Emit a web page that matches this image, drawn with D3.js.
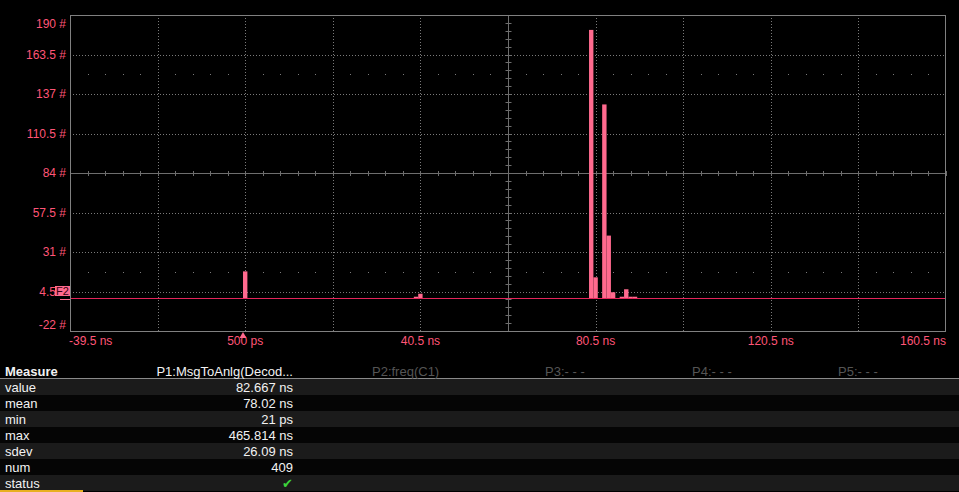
<!DOCTYPE html>
<html><head><meta charset="utf-8">
<script src="https://cdn.jsdelivr.net/npm/d3@7/dist/d3.min.js"></script>
<style>
html,body{margin:0;padding:0;background:#000;}
svg{display:block;font-family:"Liberation Sans",Arial,sans-serif;}
</style></head>
<body>
<svg id="c" width="959" height="492"></svg>
<script>
// ---- data ----
const binStartNs = [0, 39, 40, 79, 80, 81, 82, 83, 84, 85, 86, 87, 88, 89];
const binCounts  = [18, 1, 3, 180, 14, 0, 130, 42, 4, 0, 1, 6, 1, 1];
const binWidthNs = 1;
const xTickValues = [-39.5, 0.5, 40.5, 80.5, 120.5, 160.5];
const xTickLabels = ["-39.5 ns", "500 ps", "40.5 ns", "80.5 ns", "120.5 ns", "160.5 ns"];
const yTickValues = [190, 163.5, 137, 110.5, 84, 57.5, 31, 4.5, -22];
const yTickLabels = ["190 #", "163.5 #", "137 #", "110.5 #", "84 #", "57.5 #", "31 #", "4.5 #", "-22 #"];
const measureNames = ["value", "mean", "min", "max", "sdev", "num", "status"];
const p1Values = ["82.667 ns", "78.02 ns", "21 ps", "465.814 ns", "26.09 ns", "409", "\u2714"];
const paramHeaders = ["P1:MsgToAnlg(Decod...", "P2:freq(C1)", "P3:- - -", "P4:- - -", "P5:- - -"];

// ---- layout ----
const svg = d3.select("#c");
const L = 70, R = 946, T = 15, B = 331;
const x = d3.scaleLinear().domain([-39.5, 160.5]).range([L, R]);
const y = d3.scaleLinear().domain([-22, 190]).range([B, T]);
const gridGray = "#7a7a7a";
const pink = "#ff6a8e";
const labelPink = "#ff5577";

svg.append("rect").attr("width", 959).attr("height", 492).attr("fill", "#000");

const g = svg.append("g");
// dotted grid verticals
const xDiv = d3.range(0, 11).map(i => -39.5 + i * 20);
const yDiv = d3.range(0, 9).map(i => -22 + i * 26.5);
xDiv.slice(1, -1).filter(v => v !== 60.5).forEach(v => {
  g.append("line").attr("x1", Math.round(x(v)) + 0.5).attr("x2", Math.round(x(v)) + 0.5)
    .attr("y1", T).attr("y2", B).attr("stroke", gridGray).attr("stroke-dasharray", "1,2");
});
yDiv.slice(1, -1).filter(v => v !== 84).forEach(v => {
  g.append("line").attr("y1", Math.round(y(v)) + 0.5).attr("y2", Math.round(y(v)) + 0.5)
    .attr("x1", L).attr("x2", R).attr("stroke", gridGray).attr("stroke-dasharray", "1,2");
});
// dot rows at +-2.5 divisions
[84 + 2.5 * 26.5, 84 - 2.5 * 26.5].forEach(v => {
  d3.range(0, 51).forEach(i => {
    if (i % 5 === 0) return;
    const xv = -39.5 + i * 4;
    g.append("rect").attr("x", Math.round(x(xv))).attr("y", Math.round(y(v)))
      .attr("width", 1).attr("height", 1).attr("fill", gridGray);
  });
});
// center axes
const cx = Math.round(x(60.5)) + 0.5, cy = Math.round(y(84)) + 0.5;
g.append("line").attr("x1", cx).attr("x2", cx).attr("y1", T).attr("y2", B).attr("stroke", "#6e6e6e");
g.append("line").attr("x1", L).attr("x2", R).attr("y1", cy).attr("y2", cy).attr("stroke", "#6e6e6e");
d3.range(0, 51).forEach(i => {
  const xv = Math.round(x(-39.5 + i * 4)) + 0.5;
  g.append("line").attr("x1", xv).attr("x2", xv).attr("y1", cy - 2.5).attr("y2", cy + 2.5).attr("stroke", "#6e6e6e");
});
d3.range(0, 41).forEach(i => {
  const yv = Math.round(y(-22 + i * 5.3)) + 0.5;
  g.append("line").attr("y1", yv).attr("y2", yv).attr("x1", cx - 3).attr("x2", cx + 3).attr("stroke", "#6e6e6e");
});

// bars
g.selectAll("rect.bar").data(binStartNs.map((s, i) => ({s, c: binCounts[i]})).filter(d => d.c > 0))
  .enter().append("rect").attr("class", "bar")
  .attr("x", d => x(d.s)).attr("width", d => x(d.s + binWidthNs) - x(d.s))
  .attr("y", d => y(d.c)).attr("height", d => y(0) - y(d.c))
  .attr("fill", pink);

// baseline
g.append("line").attr("x1", L).attr("x2", R).attr("y1", Math.round(y(0)) + 0.5).attr("y2", Math.round(y(0)) + 0.5)
  .attr("stroke", "#e3245a").attr("stroke-width", 1.2);

// frame
g.append("rect").attr("x", L + 0.5).attr("y", T + 0.5).attr("width", R - L - 1).attr("height", B - T)
  .attr("fill", "none").attr("stroke", "#808080");

// y labels
yTickValues.forEach((v, i) => {
  let yy = y(v);
  if (i === 0) yy = y(v) + 9;
  if (i === yTickValues.length - 1) yy = y(v) - 6;
  svg.append("text").attr("x", 66).attr("y", yy).attr("dy", "0.35em").attr("text-anchor", "end")
    .attr("font-size", 12).attr("fill", labelPink).text(yTickLabels[i]);
});
// x labels
xTickValues.forEach((v, i) => {
  let anchor = "middle", xx = x(v);
  if (i === 0) { anchor = "start"; xx = x(v) - 1; }
  if (i === xTickValues.length - 1) { anchor = "end"; xx = x(v); }
  svg.append("text").attr("x", xx).attr("y", 345).attr("text-anchor", anchor)
    .attr("font-size", 12).attr("fill", labelPink).text(xTickLabels[i]);
});
// trigger marker triangle at 0
const tx = Math.round(x(0));
svg.append("path").attr("d", `M${tx},332 L${tx - 3.5},338 L${tx + 3.5},338 Z`).attr("fill", pink);
// F2 marker
svg.append("rect").attr("x", 55).attr("y", 286).attr("width", 15).attr("height", 10).attr("fill", pink);
svg.append("text").attr("x", 62.5).attr("y", 295).attr("text-anchor", "middle").attr("font-size", 11)
  .attr("fill", "#3a0010").text("F2");
svg.append("line").attr("x1", 60).attr("x2", 70).attr("y1", 299.5).attr("y2", 299.5).attr("stroke", pink);

// ---- measure table ----
const tbl = svg.append("g");
const rowTop = 379, rowH = 16;
measureNames.forEach((n, i) => {
  tbl.append("rect").attr("x", 0).attr("y", rowTop + i * rowH).attr("width", 959).attr("height", rowH)
    .attr("fill", i % 2 === 0 ? "#1b1b1b" : "#050505");
  tbl.append("text").attr("x", 5).attr("y", rowTop + i * rowH + 12.5).attr("font-size", 13)
    .attr("fill", "#f2f2f2").text(n);
  tbl.append("text").attr("x", 293).attr("y", rowTop + i * rowH + 12.5).attr("font-size", 13)
    .attr("text-anchor", "end").attr("fill", i === 6 ? "#3bd23b" : "#f2f2f2").text(p1Values[i]);
});
tbl.append("line").attr("x1", 0).attr("x2", 959).attr("y1", 378.5).attr("y2", 378.5).attr("stroke", "#8a8a8a");
tbl.append("text").attr("x", 5).attr("y", 376).attr("font-size", 13).attr("font-weight", "bold")
  .attr("fill", "#f2f2f2").text("Measure");
const headerX = [293, 372, 545, 692, 838];
paramHeaders.forEach((h, i) => {
  tbl.append("text").attr("x", headerX[i]).attr("y", 376).attr("font-size", 13)
    .attr("text-anchor", i === 0 ? "end" : "start")
    .attr("fill", i === 0 ? "#f2f2f2" : "#555").text(h);
});
tbl.append("rect").attr("x", 0).attr("y", 490).attr("width", 83).attr("height", 2).attr("fill", "#e8b020");
</script>
</body></html>
